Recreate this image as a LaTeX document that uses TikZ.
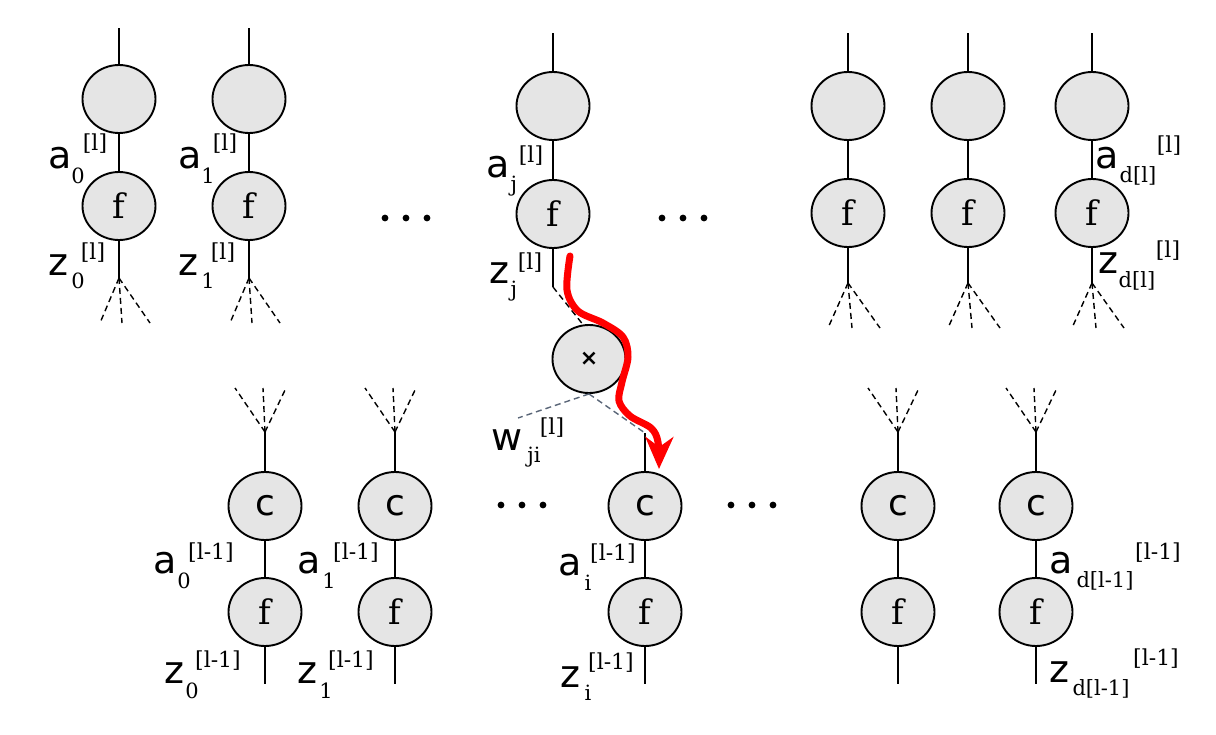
\documentclass[tikz,border=0pt]{standalone}
\usepackage{fontspec}
\setmainfont{DejaVu Serif}
\newfontfamily\dvs{DejaVu Sans}
\usetikzlibrary{shapes.geometric,arrows.meta}
\definecolor{nodefill}{HTML}{E5E5E5}
\definecolor{wgray}{HTML}{5A6678}
\tikzset{
  neuron/.style={ellipse, draw=black, line width=1.9pt, fill=nodefill, minimum width=73pt, minimum height=68pt, inner sep=0pt},
  fnode/.style={neuron, font=\fontsize{34}{40}\selectfont},
  cnode/.style={neuron, font=\dvs\fontsize{36}{42}\selectfont},
  xnode/.style={neuron, font=\dvs\bfseries\fontsize{22}{26}\selectfont},
  wire/.style={line width=1.4pt, draw=black},
  fan/.style={line width=1.4pt, draw=black, dash pattern=on 6pt off 4pt},
  wdash/.style={line width=1.4pt, draw=wgray, dash pattern=on 6pt off 4pt},
  lett/.style={anchor=base, inner sep=0pt, font=\dvs\fontsize{38}{44}\selectfont},
  scr/.style={anchor=base, inner sep=0pt, font=\fontsize{21}{25}\selectfont},
  sps/.style={anchor=base, inner sep=0pt, font=\fontsize{22}{26}\selectfont},
  dotmark/.style={fill=black},
  redarrow/.style={draw=red, line width=7pt, line cap=round, -{Stealth[length=32pt,width=28pt,inset=10pt]}}
}
\newcommand\lab[7]{%
  \node[lett] (#1) at (#2) {#3};
  \node[scr] (#1s) at (#4) {#5};
  \node[sps] (#1p) at (#6) {#7};}
\begin{document}
\begin{tikzpicture}[x=1pt,y=-1pt]
\useasboundingbox (0,0) rectangle (1216,734);
% ---------- top row ----------
% col 0
\node[neuron] (T0) at (119,99) {};
\node[fnode] (F0) at (119,206) {f};
\coordinate (t0) at (119,28);
\coordinate (p0) at (119,278);
\coordinate (p0a) at (100,323);
\coordinate (p0b) at (122,323);
\coordinate (p0c) at (150,323);
\draw[wire] (t0) -- (T0.north);
\draw[wire] (T0.south) -- (F0.north);
\draw[wire] (F0.south) -- (p0);
\draw[fan] (p0) -- (p0a); \draw[fan] (p0) -- (p0b); \draw[fan] (p0) -- (p0c);
% col 1
\node[neuron] (T1) at (249,99) {};
\node[fnode] (F1) at (249,206) {f};
\coordinate (t1) at (249,28);
\coordinate (p1) at (249,278);
\coordinate (p1a) at (230,323);
\coordinate (p1b) at (252,323);
\coordinate (p1c) at (280,323);
\draw[wire] (t1) -- (T1.north);
\draw[wire] (T1.south) -- (F1.north);
\draw[wire] (F1.south) -- (p1);
\draw[fan] (p1) -- (p1a); \draw[fan] (p1) -- (p1b); \draw[fan] (p1) -- (p1c);
% col j
\node[neuron] (Tj) at (553,106) {};
\node[fnode] (Fj) at (553,214) {f};
\coordinate (tj) at (553,33);
\coordinate (pj) at (553,287);
\draw[wire] (tj) -- (Tj.north);
\draw[wire] (Tj.south) -- (Fj.north);
\draw[wire] (Fj.south) -- (pj);
% right cols
\foreach \i/\x in {A/848,B/968,D/1092}{
  \node[neuron] (T\i) at (\x,106) {};
  \node[fnode] (F\i) at (\x,213) {f};
  \coordinate (t\i) at (\x,33);
  \coordinate (p\i) at (\x,283);
  \coordinate (p\i a) at (\x-20,328);
  \coordinate (p\i b) at (\x+4,328);
  \coordinate (p\i c) at (\x+32,328);
  \draw[wire] (t\i) -- (T\i.north);
  \draw[wire] (T\i.south) -- (F\i.north);
  \draw[wire] (F\i.south) -- (p\i);
  \draw[fan] (p\i) -- (p\i a); \draw[fan] (p\i) -- (p\i b); \draw[fan] (p\i) -- (p\i c);
}
% ---------- multiplication node ----------
\node[xnode] (X) at (589,359) {\raisebox{-0.1ex}{×}};
\draw[fan] (pj) -- (X.100);
\coordinate (wl) at (518,418);
\coordinate (wr) at (645,433);
\draw[wdash] (X.south) -- (wl);
\draw[wdash] (X.south) -- (wr);
% ---------- bottom row ----------
\foreach \i/\x in {0/265,1/395,E/898,G/1036}{
  \node[cnode] (C\i) at (\x,506) {c};
  \node[fnode] (G\i) at (\x,612) {f};
  \coordinate (q\i) at (\x,432);
  \coordinate (q\i a) at (\x-30,388);
  \coordinate (q\i b) at (\x-2,388);
  \coordinate (q\i c) at (\x+21,388);
  \coordinate (b\i) at (\x,684);
  \draw[fan] (q\i) -- (q\i a); \draw[fan] (q\i) -- (q\i b); \draw[fan] (q\i) -- (q\i c);
  \draw[wire] (q\i) -- (C\i.north);
  \draw[wire] (C\i.south) -- (G\i.north);
  \draw[wire] (G\i.south) -- (b\i);
}
% col i
\node[cnode] (Ci) at (645,506) {c};
\node[fnode] (Gi) at (645,612) {f};
\coordinate (bi) at (645,684);
\draw[wire] (wr) -- (Ci.north);
\draw[wire] (Ci.south) -- (Gi.north);
\draw[wire] (Gi.south) -- (bi);
% ---------- dots ----------
\foreach \x/\y in {385/218,406/218,427/218,662/218,683/218,704/218,501/505,522/505,543/505,731/505,752/505,773/505}{
  \fill[dotmark] (\x,\y) circle (3.4pt);
}
% ---------- red arrow ----------
\coordinate (rs) at (570,256);
\coordinate (re) at (659,469);
\draw[redarrow] plot[smooth, tension=0.55] coordinates {(rs) (567,290) (578,311) (603,323) (623,337) (628,357) (622,382) (619,401) (630,416) (651,428) (658,442) (re)};
% ---------- labels ----------
\lab{la0}{60,168}{a}{78,183}{0}{95,150}{[l]}
\lab{lz0}{58,275}{z}{78,288}{0}{93,259}{[l]}
\lab{la1}{190,168}{a}{208,183}{1}{225,150}{[l]}
\lab{lz1}{188,275}{z}{208,288}{1}{223,259}{[l]}
\lab{laj}{498,177}{a}{514,191}{j}{531,162}{[l]}
\lab{lzj}{499,283}{z}{514,296}{j}{530,269}{[l]}
\lab{lad}{1107,168}{a}{1138,182}{d[l]}{1169,152}{[l]}
\lab{lzd}{1108,273}{z}{1137,287}{d[l]}{1168,257}{[l]}
\lab{lw}{507,450}{w}{534,462}{ji}{552,434}{[l]}
\lab{lb0}{165,573}{a}{184,588}{0}{211,559}{[l-1]}
\lab{ly0}{174,683}{z}{192,698}{0}{218,667}{[l-1]}
\lab{lb1}{309,573}{a}{329,588}{1}{356,559}{[l-1]}
\lab{ly1}{307,683}{z}{326,698}{1}{351,667}{[l-1]}
\lab{lbi}{570,575}{a}{588,590}{i}{613,560}{[l-1]}
\lab{lyi}{570,687}{z}{588,700}{i}{611,669}{[l-1]}
\lab{lbd}{1061,573}{a}{1105,587}{d[l-1]}{1158,559}{[l-1]}
\lab{lyd}{1059,682}{z}{1101,695}{d[l-1]}{1156,665}{[l-1]}
\end{tikzpicture}
\end{document}
